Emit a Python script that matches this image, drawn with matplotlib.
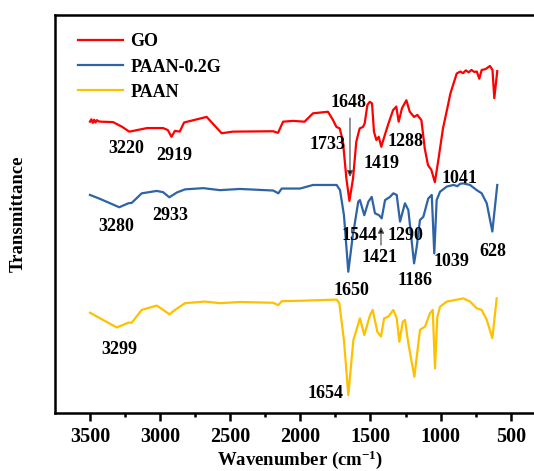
import numpy as np
import matplotlib.pyplot as plt

# FTIR spectra, wavenumber (cm-1) vs transmittance (a.u., stacked)
go_wn = [3500, 3490, 3480, 3470, 3460, 3450, 3440, 3420, 3336, 3270, 3220, 3190,
         3093, 2979, 2945, 2919, 2894, 2860, 2829, 2668, 2561, 2480, 2195, 2159,
         2123, 2052, 1970, 1910, 1803, 1767, 1743, 1719, 1696, 1672, 1650, 1624,
         1601, 1577, 1553, 1541, 1522, 1505, 1489, 1475, 1458, 1441, 1423, 1398,
         1375, 1339, 1316, 1299, 1275, 1244, 1220, 1189, 1166, 1137, 1113, 1090,
         1066, 1041, 1018, 983, 947, 930, 885, 860, 840, 820, 800, 780, 760, 742,
         724, 707, 680, 648, 630, 617, 596]
go_t = [73.2, 73.8, 72.9, 73.7, 73.0, 73.6, 73.3, 73.2, 73.1, 71.9, 70.7, 70.9,
        71.6, 71.6, 71.1, 69.4, 70.9, 70.7, 73.0, 74.4, 70.3, 70.7, 70.8, 70.4,
        73.2, 73.4, 73.2, 75.3, 75.7, 73.6, 71.9, 71.5, 68.2, 59.0, 53.3, 59.0,
        68.2, 71.5, 71.9, 72.8, 77.4, 78.2, 77.8, 70.7, 68.6, 69.4, 66.9, 69.8,
        72.4, 76.1, 77.0, 73.2, 76.6, 78.6, 75.7, 74.4, 74.9, 73.6, 66.5, 62.3,
        61.1, 58.0, 63.1, 71.5, 77.4, 80.3, 85.3, 85.8, 85.4, 86.1, 85.6, 86.2,
        85.7, 85.8, 84.0, 86.2, 86.4, 87.2, 86.2, 79.1, 85.9]

g02_wn = [3500, 3428, 3291, 3226, 3202, 3131, 3024, 2979, 2934, 2881, 2822, 2692,
          2573, 2430, 2193, 2157, 2133, 2002, 1910, 1741, 1717, 1689, 1658, 1627,
          1587, 1575, 1544, 1515, 1491, 1468, 1439, 1420, 1396, 1361, 1337, 1313,
          1289, 1254, 1230, 1189, 1170, 1147, 1123, 1088, 1063, 1045, 1028, 1004,
          956, 909, 880, 860, 838, 790, 742, 707, 671, 631, 596]
g02_t = [54.8, 53.8, 51.7, 52.7, 52.8, 55.2, 55.8, 55.5, 54.2, 55.4, 56.2, 56.5,
         56.0, 56.3, 55.9, 55.2, 56.4, 56.4, 57.3, 57.3, 56.0, 49.7, 35.5, 44.3,
         53.1, 53.5, 49.7, 53.1, 54.3, 50.2, 49.7, 48.9, 53.5, 54.3, 55.2, 54.8,
         48.1, 52.7, 51.0, 37.6, 41.8, 48.5, 49.3, 53.9, 54.8, 40.1, 53.5, 55.6,
         56.9, 57.3, 57.0, 57.6, 57.7, 57.3, 56.0, 55.2, 52.7, 45.6, 57.3]

paan_wn = [3500, 3309, 3226, 3202, 3131, 3024, 2977, 2934, 2894, 2822, 2680, 2573,
           2430, 2193, 2157, 2133, 2002, 1741, 1722, 1689, 1658, 1622, 1575, 1544,
           1503, 1484, 1451, 1425, 1403, 1373, 1337, 1313, 1294, 1270, 1254, 1230,
           1187, 1170, 1147, 1111, 1075, 1056, 1040, 1023, 1004, 956, 880, 838,
           790, 742, 707, 671, 631, 600]
paan_t = [25.2, 21.5, 22.7, 22.7, 25.9, 27.0, 25.9, 24.8, 25.9, 27.6, 28.0, 27.6,
          27.9, 27.7, 27.1, 28.1, 28.2, 28.5, 27.6, 18.3, 4.5, 18.3, 23.8, 19.6,
          24.6, 25.9, 20.4, 19.2, 23.8, 24.2, 25.9, 23.8, 17.9, 22.9, 23.4, 17.5,
          9.1, 14.1, 20.9, 21.7, 25.1, 25.9, 11.2, 24.2, 26.7, 28.0, 28.5, 28.8,
          28.0, 26.3, 25.9, 23.4, 18.8, 28.8]

# peak labels: text, x, y
peak_labels = [
    ("3220", 3243, 66.5), ("2919", 2897, 64.6), ("1733", 1806, 67.5),
    ("1648", 1653, 78.0), ("1419", 1421, 62.7), ("1288", 1247, 68.2),
    ("1041", 865, 59.0), ("3280", 3314, 46.9), ("2933", 2929, 49.7),
    ("1544", 1578, 44.7), ("1290", 1247, 44.5), ("1421", 1432, 39.2),
    ("1186", 1182, 33.3), ("1039", 926, 38.1), ("628", 626, 40.6),
    ("1650", 1639, 30.9), ("1654", 1824, 4.9), ("3299", 3289, 16.0),
]

plt.rcParams['font.family'] = ['Liberation Serif', 'DejaVu Serif']
plt.rcParams['font.weight'] = 'bold'
plt.rcParams['mathtext.fontset'] = 'custom'
plt.rcParams['mathtext.rm'] = 'Liberation Serif:bold'
plt.rcParams['mathtext.it'] = 'Liberation Serif:bold'
plt.rcParams['mathtext.bf'] = 'Liberation Serif:bold'
plt.rcParams['mathtext.default'] = 'regular'

fig = plt.figure(figsize=(5.34, 4.71), dpi=100)
ax = fig.add_axes([0.1028, 0.1231, 0.8972, 0.8450])

ax.plot(go_wn, go_t, color="#FF0000", lw=1.6, label="GO")
ax.plot(g02_wn, g02_t, color="#2E63A6", lw=1.6, label="PAAN-0.2G")
ax.plot(paan_wn, paan_t, color="#FFC000", lw=1.6, label="PAAN")

for txt, x, y in peak_labels:
    ax.text(x, y, txt, fontsize=13, fontweight='bold', ha='center', va='center')

arrow = dict(arrowstyle='-|>', edgecolor='#555555', facecolor='black',
             lw=0.9, mutation_scale=9, shrinkA=0, shrinkB=0)
ax.annotate("", xy=(1646, 59.3), xytext=(1646, 74.1), arrowprops=arrow)
ax.annotate("", xy=(1425, 46.8), xytext=(1425, 42.2), arrowprops=arrow)

ax.set_xlim(3750, 334)
ax.set_ylim(0, 100)
ax.set_xticks([3500, 3000, 2500, 2000, 1500, 1000, 500])
ax.set_xticks(np.arange(3250, 500, -500), minor=True)
ax.set_yticks([])
ax.tick_params(axis='x', which='major', direction='out', length=6, width=1.8,
               labelsize=14.5, pad=4)
ax.tick_params(axis='x', which='minor', direction='out', length=3, width=1.8)
for lab in ax.get_xticklabels():
    lab.set_fontweight('bold')

for side in ['top', 'left', 'bottom']:
    ax.spines[side].set_linewidth(1.8)
ax.spines['right'].set_visible(False)

ax.set_xlabel("Wavenumber (cm$^{-1}$)", fontsize=13.5, fontweight='bold')
ax.xaxis.set_label_coords(0.512, -0.088)
ax.set_ylabel("Transmittance", fontsize=13.5, fontweight='bold')
ax.yaxis.set_label_coords(-0.058, 0.5)

ax.legend(loc='upper left', bbox_to_anchor=(0.018, 0.99), frameon=False,
          handlelength=2.5, handletextpad=0.4, labelspacing=0.45,
          borderaxespad=0.4, prop={'weight': 'bold', 'size': 13})

fig.savefig("out.png", dpi=100)
